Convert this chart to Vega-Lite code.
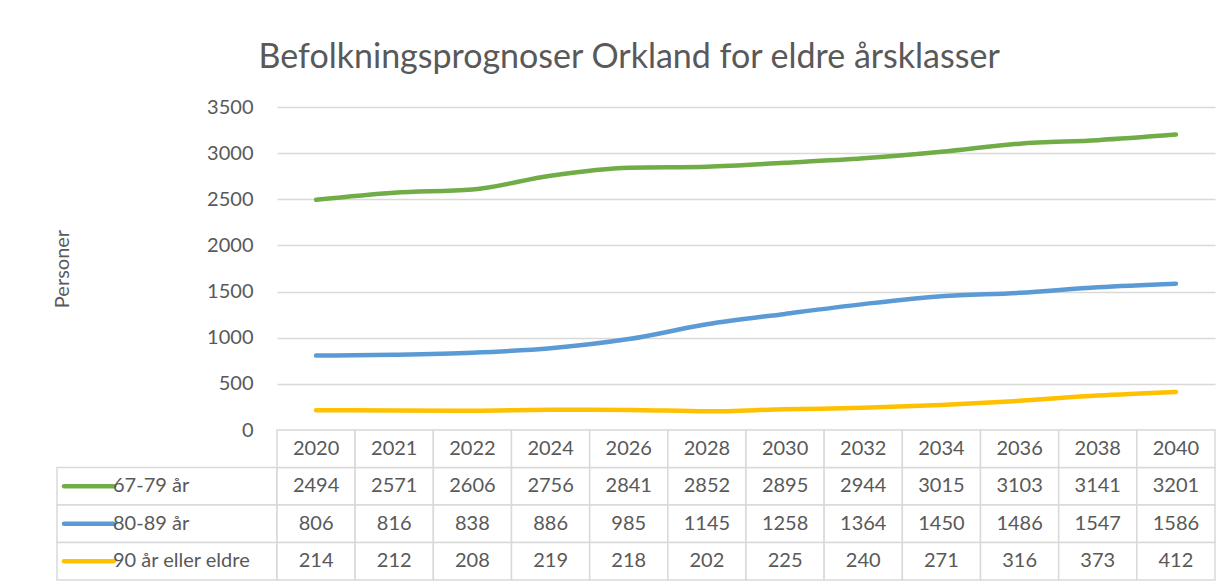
{
  "$schema": "https://vega.github.io/schema/vega-lite/v6.json",
  "padding": {"left": 52, "top": 41, "right": 0, "bottom": 0},
  "background": "white",
  "config": {"font": "Lato", "view": {"stroke": null}},
  "title": {"text": "Befolkningsprognoser Orkland for eldre årsklasser", "fontSize": 34, "fontWeight": "normal", "color": "#595959", "font": "Lato", "anchor": "middle", "dx": -5, "offset": 22},
  "datasets": {
    "prog": [
      {"year": "2020", "group": "67-79 år", "value": 2494},
      {"year": "2021", "group": "67-79 år", "value": 2571},
      {"year": "2022", "group": "67-79 år", "value": 2606},
      {"year": "2024", "group": "67-79 år", "value": 2756},
      {"year": "2026", "group": "67-79 år", "value": 2841},
      {"year": "2028", "group": "67-79 år", "value": 2852},
      {"year": "2030", "group": "67-79 år", "value": 2895},
      {"year": "2032", "group": "67-79 år", "value": 2944},
      {"year": "2034", "group": "67-79 år", "value": 3015},
      {"year": "2036", "group": "67-79 år", "value": 3103},
      {"year": "2038", "group": "67-79 år", "value": 3141},
      {"year": "2040", "group": "67-79 år", "value": 3201},
      {"year": "2020", "group": "80-89 år", "value": 806},
      {"year": "2021", "group": "80-89 år", "value": 816},
      {"year": "2022", "group": "80-89 år", "value": 838},
      {"year": "2024", "group": "80-89 år", "value": 886},
      {"year": "2026", "group": "80-89 år", "value": 985},
      {"year": "2028", "group": "80-89 år", "value": 1145},
      {"year": "2030", "group": "80-89 år", "value": 1258},
      {"year": "2032", "group": "80-89 år", "value": 1364},
      {"year": "2034", "group": "80-89 år", "value": 1450},
      {"year": "2036", "group": "80-89 år", "value": 1486},
      {"year": "2038", "group": "80-89 år", "value": 1547},
      {"year": "2040", "group": "80-89 år", "value": 1586},
      {"year": "2020", "group": "90 år eller eldre", "value": 214},
      {"year": "2021", "group": "90 år eller eldre", "value": 212},
      {"year": "2022", "group": "90 år eller eldre", "value": 208},
      {"year": "2024", "group": "90 år eller eldre", "value": 219},
      {"year": "2026", "group": "90 år eller eldre", "value": 218},
      {"year": "2028", "group": "90 år eller eldre", "value": 202},
      {"year": "2030", "group": "90 år eller eldre", "value": 225},
      {"year": "2032", "group": "90 år eller eldre", "value": 240},
      {"year": "2034", "group": "90 år eller eldre", "value": 271},
      {"year": "2036", "group": "90 år eller eldre", "value": 316},
      {"year": "2038", "group": "90 år eller eldre", "value": 373},
      {"year": "2040", "group": "90 år eller eldre", "value": 412}
    ]
  },
  "columns": 2,
  "spacing": 0,
  "bounds": "flush",
  "align": "each",
  "concat": [
    {
      "width": 220, "height": 323,
      "data": {"values": []},
      "mark": {"type": "text"},
      "encoding": {}
    },
    {
      "width": 938, "height": 323,
      "data": {"name": "prog"},
      "mark": {"type": "line", "strokeWidth": 4.5, "strokeCap": "round", "strokeJoin": "round", "interpolate": "monotone"},
      "encoding": {
        "x": {"field": "year", "type": "ordinal", "scale": {"type": "point", "padding": 0.5}, "axis": null},
        "y": {"field": "value", "type": "quantitative", "scale": {"domain": [0, 3500], "nice": false},
          "axis": {"values": [0, 500, 1000, 1500, 2000, 2500, 3000, 3500], "format": "d", "title": "Personer", "grid": true, "gridColor": "#d9d9d9", "gridWidth": 1.5, "domain": false, "ticks": false, "labelPadding": 24, "labelFontSize": 20, "labelColor": "#595959", "titleFontSize": 20, "titleFontWeight": "normal", "titleColor": "#595959", "titlePadding": 134}},
        "color": {"field": "group", "type": "nominal", "scale": {"domain": ["67-79 år", "80-89 år", "90 år eller eldre"], "range": ["#70ad47", "#5b9bd5", "#ffc000"]}, "legend": null}
      }
    },
    {
      "width": 220, "height": 150,
      "data": {"name": "prog"},
      "transform": [{"filter": "datum.year === '2020'"}],
      "encoding": {
        "y": {"field": "group", "type": "nominal", "scale": {"type": "band", "domain": ["header", "67-79 år", "80-89 år", "90 år eller eldre"], "paddingInner": 0, "paddingOuter": 0}, "axis": null}
      },
      "layer": [
        {"mark": {"type": "rect", "fill": "white", "stroke": "#d9d9d9", "strokeWidth": 1.5}},
        {"mark": {"type": "point", "shape": "stroke", "size": 2500, "strokeWidth": 4.5, "strokeCap": "round", "xOffset": -78, "opacity": 1, "filled": false},
          "encoding": {"color": {"field": "group", "type": "nominal", "scale": {"domain": ["67-79 år", "80-89 år", "90 år eller eldre"], "range": ["#70ad47", "#5b9bd5", "#ffc000"]}, "legend": null}}},
        {"mark": {"type": "text", "align": "left", "dx": -54, "fontSize": 20, "color": "#595959"},
          "encoding": {"text": {"field": "group"}}}
      ]
    },
    {
      "width": 938, "height": 150,
      "data": {"name": "prog"},
      "encoding": {
        "x": {"field": "year", "type": "ordinal", "scale": {"type": "band", "paddingInner": 0, "paddingOuter": 0}, "axis": null}
      },
      "layer": [
        {"mark": {"type": "rect", "fill": "white", "stroke": "#d9d9d9", "strokeWidth": 1.5},
          "encoding": {"y": {"field": "group", "type": "nominal", "scale": {"type": "band", "domain": ["header", "67-79 år", "80-89 år", "90 år eller eldre"], "paddingInner": 0, "paddingOuter": 0}, "axis": null}}},
        {"transform": [{"filter": "datum.group === '67-79 år'"}],
          "mark": {"type": "rect", "fill": "white", "stroke": "#d9d9d9", "strokeWidth": 1.5},
          "encoding": {"y": {"datum": "header", "type": "nominal"}}},
        {"mark": {"type": "text", "fontSize": 20, "color": "#595959"},
          "encoding": {"y": {"field": "group", "type": "nominal"}, "text": {"field": "value", "type": "quantitative", "format": "d"}}},
        {"transform": [{"filter": "datum.group === '67-79 år'"}],
          "mark": {"type": "text", "fontSize": 20, "color": "#595959"},
          "encoding": {"y": {"datum": "header", "type": "nominal"}, "text": {"field": "year"}}}
      ]
    }
  ]
}
